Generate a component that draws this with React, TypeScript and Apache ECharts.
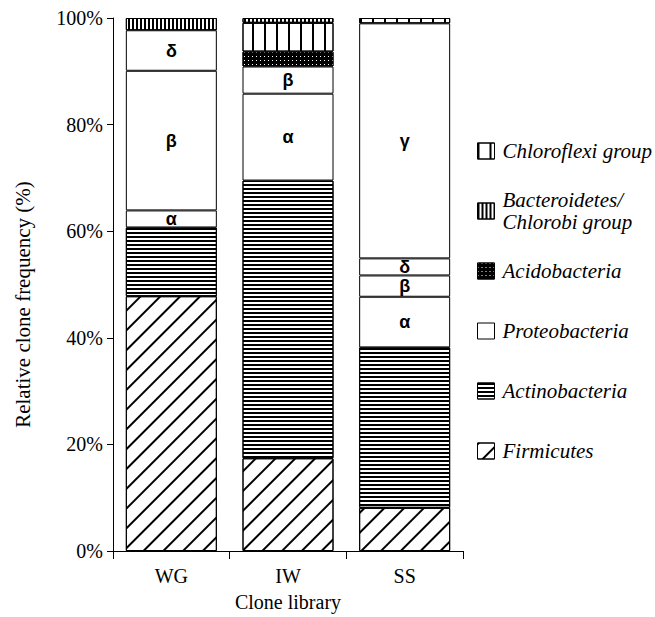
import React, { useEffect, useRef } from 'react';
import * as echarts from 'echarts';

const categories = ['WG', 'IW', 'SS'];
const yTickValues = [0, 20, 40, 60, 80, 100];

// stacked from bottom to top (percent of clones)
const firmicutes = [47.8, 17.4, 8.1];
const actinobacteria = [12.9, 52.1, 30.1];
const proteoAlpha = [3.2, 16.3, 9.5];
const proteoBeta = [26.2, 5.1, 4.0];
const proteoDelta = [7.6, null, 3.2];
const proteoGamma = [null, null, 44.1];
const acidobacteria = [null, 2.8, null];
const chloroflexi = [null, 5.4, 1.0];
const bacteroidetes = [2.3, 0.9, null];

const legendNames = [
  'Chloroflexi group',
  'Bacteroidetes/\nChlorobi group',
  'Acidobacteria',
  'Proteobacteria',
  'Actinobacteria',
  'Firmicutes',
];

const SERIF = 'Times New Roman';

export default function App() {
  const ref = useRef<HTMLDivElement>(null);
  useEffect(() => {
    if (!ref.current) return;
    const chart = echarts.init(ref.current, undefined, { renderer: 'svg' });

    const mk = (name: string, data: (number | null)[], fill: string, decal?: any, greek?: string) => ({
      type: 'bar',
      name,
      stack: 'total',
      data,
      barWidth: 91,
      itemStyle: decal
        ? { color: fill, borderColor: '#000', borderWidth: 1, decal }
        : { color: fill, borderColor: '#000', borderWidth: 1 },
      label: greek
        ? {
            show: true,
            position: 'inside',
            formatter: () => greek,
            color: '#000',
            fontSize: 18,
            fontWeight: 'bold',
            fontFamily: 'Liberation Sans',
          }
        : { show: false },
      emphasis: { disabled: true },
    });

    const decalFirm = {
      symbol: 'rect', symbolSize: 1, color: '#000',
      dashArrayX: [1, 0], dashArrayY: [2, 12], rotation: -Math.PI / 4,
    };
    const decalActino = {
      symbol: 'rect', symbolSize: 1, color: '#000',
      dashArrayX: [1, 0], dashArrayY: [2, 2], rotation: 0,
    };
    const decalChloro = {
      symbol: 'rect', symbolSize: 1, color: '#000',
      dashArrayX: [1.3, 9.2], dashArrayY: [1, 0], rotation: 0,
    };
    const decalBacter = {
      symbol: 'rect', symbolSize: 1, color: '#000',
      dashArrayX: [2, 1.7], dashArrayY: [1, 0], rotation: 0,
    };
    const decalAcido = {
      symbol: 'rect', symbolSize: 1, color: '#fff',
      dashArrayX: [1, 2.2], dashArrayY: [1, 2.2], rotation: 0,
    };

    chart.setOption({
      animation: false,
      textStyle: { fontFamily: SERIF },
      grid: { left: 113, right: 192, top: 18, bottom: 65, containLabel: false },
      legend: {
        orient: 'vertical',
        left: 477,
        top: 129,
        padding: 0,
        itemWidth: 17,
        itemHeight: 16,
        itemGap: 16,
        selectedMode: false,
        icon: 'rect',
        itemStyle: { borderColor: '#000', borderWidth: 1 },
        textStyle: {
          fontFamily: SERIF,
          fontStyle: 'italic',
          fontSize: 21,
          color: '#000',
          lineHeight: 44,
          padding: [0, 0, 0, 3],
        },
        data: legendNames.map((n) =>
          n.includes('\n') ? { name: n, textStyle: { lineHeight: 22 } } : { name: n }
        ),
      },
      xAxis: {
        type: 'category',
        data: categories,
        boundaryGap: true,
        name: 'Clone library',
        nameLocation: 'middle',
        nameGap: 41,
        nameTextStyle: { fontFamily: SERIF, fontSize: 20, color: '#000' },
        axisLine: { show: true, lineStyle: { color: '#000', width: 1 } },
        axisTick: { show: true, alignWithLabel: false, length: 8, lineStyle: { color: '#000' } },
        axisLabel: { fontFamily: SERIF, fontSize: 20, color: '#000', margin: 15 },
        splitLine: { show: false },
      },
      yAxis: {
        type: 'value',
        min: yTickValues[0],
        max: yTickValues[yTickValues.length - 1],
        interval: 20,
        name: 'Relative clone frequency (%)',
        nameLocation: 'middle',
        nameGap: 80,
        nameTextStyle: { fontFamily: SERIF, fontSize: 21, color: '#000', padding: [0, 40, 0, 0] },
        axisLine: { show: true, lineStyle: { color: '#000', width: 1 } },
        axisTick: { show: true, inside: false, length: 6, lineStyle: { color: '#000' } },
        axisLabel: { fontFamily: SERIF, fontSize: 20, color: '#000', margin: 10, formatter: '{value}%' },
        splitLine: { show: false },
      },
      series: [
        mk('Firmicutes', firmicutes, '#fff', decalFirm),
        mk('Actinobacteria', actinobacteria, '#fff', decalActino),
        mk('Proteobacteria', proteoAlpha, '#fff', undefined, 'α'),
        mk('Proteobacteria', proteoBeta, '#fff', undefined, 'β'),
        mk('Proteobacteria', proteoDelta, '#fff', undefined, 'δ'),
        mk('Proteobacteria', proteoGamma, '#fff', undefined, 'γ'),
        mk('Acidobacteria', acidobacteria, '#000', decalAcido),
        mk('Chloroflexi group', chloroflexi, '#fff', decalChloro),
        mk('Bacteroidetes/\nChlorobi group', bacteroidetes, '#fff', decalBacter),
      ],
    });
    return () => chart.dispose();
  }, []);
  return (
    <div
      ref={ref}
      style={{ position: 'absolute', left: 0, top: 0, width: 655, height: 617, background: '#fff' }}
    />
  );
}
